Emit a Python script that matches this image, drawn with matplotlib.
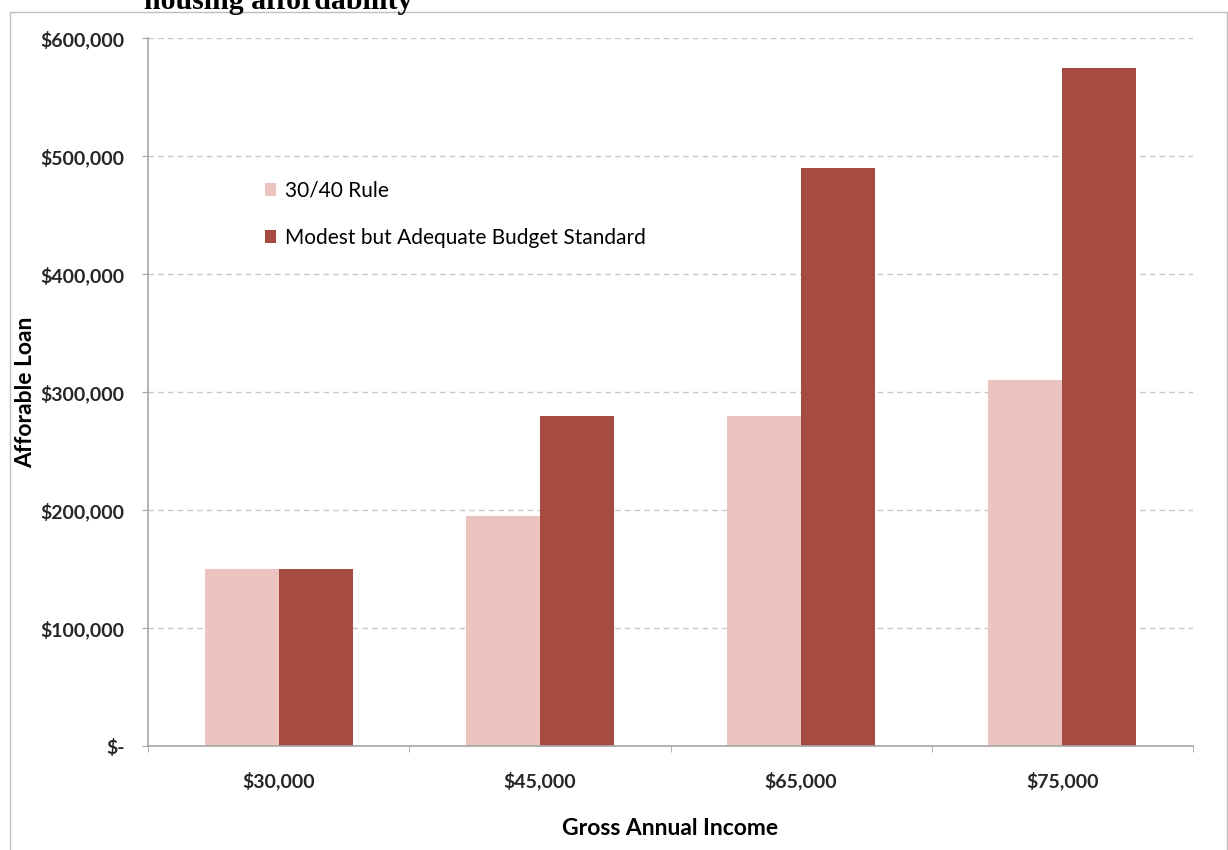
import matplotlib
matplotlib.use("Agg")
import matplotlib.pyplot as plt
import numpy as np

# data
incomes = ['$30,000', '$45,000', '$65,000', '$75,000']
rule_3040 = [150000, 195000, 280000, 310000]
modest_budget = [150000, 280000, 490000, 575000]
y_ticks = [0, 100000, 200000, 300000, 400000, 500000, 600000]
y_labels = ['$-', '$100,000', '$200,000', '$300,000', '$400,000', '$500,000', '$600,000']

light = '#EBC4BF'
dark = '#A54B41'
grey = '#A6A6A6'

plt.rcParams['font.family'] = ['Lato', 'DejaVu Sans']

fig = plt.figure(figsize=(12.28, 8.5), dpi=100)
ax = fig.add_axes([148/1228, 1 - 746/850, (1193-148)/1228, (746-38)/850])

# chart border
fig.add_artist(plt.Rectangle((10/1228, -0.01), (1227-10)/1228, 1 - 12/850 + 0.01,
                             transform=fig.transFigure, fill=False, edgecolor='#BFBFBF', lw=1))

x = np.arange(len(incomes))
w = 0.283
ax.bar(x - w/2, rule_3040, w, color=light, label='30/40 Rule', zorder=2)
ax.bar(x + w/2, modest_budget, w, color=dark, label='Modest but Adequate Budget Standard', zorder=2)

ax.set_xlim(-0.5, len(incomes) - 0.5)
ax.set_ylim(0, 600000)
ax.set_yticks(y_ticks)
ax.set_yticklabels(y_labels, fontsize=14, fontweight='bold', color='#262626')
ax.set_xticks(x)
ax.set_xticklabels(incomes, fontsize=14, fontweight='bold', color='#262626')
ax.set_xticks(np.arange(-0.5, len(incomes)), minor=True)
ax.tick_params(axis='x', which='major', length=0, pad=18)
ax.tick_params(axis='x', which='minor', length=4, color=grey)
ax.tick_params(axis='y', length=4, color=grey, pad=13)

ax.grid(axis='y', linestyle=(0, (4, 3)), color='#C8C8C8', lw=1, zorder=0)
for s in ['top', 'right']:
    ax.spines[s].set_visible(False)
for s in ['left', 'bottom']:
    ax.spines[s].set_color(grey)
    ax.spines[s].set_linewidth(1.2)

ax.set_xlabel('Gross Annual Income', fontsize=16.5, fontweight='bold', labelpad=20)
ax.set_ylabel('Afforable Loan', fontsize=16.5, fontweight='bold', labelpad=3)

ax.legend(loc='upper left', bbox_to_anchor=(0.094, 0.825), frameon=False, fontsize=15,
          handlelength=0.55, handleheight=0.55, handletextpad=0.4, labelspacing=1.3)

# clipped title at the top
fig.text(278/1228, 1 - 9/850, 'housing affordability', ha='center', va='baseline',
         fontsize=21.5, fontweight='bold', family='Liberation Serif')

fig.savefig('out.png', dpi=100)
